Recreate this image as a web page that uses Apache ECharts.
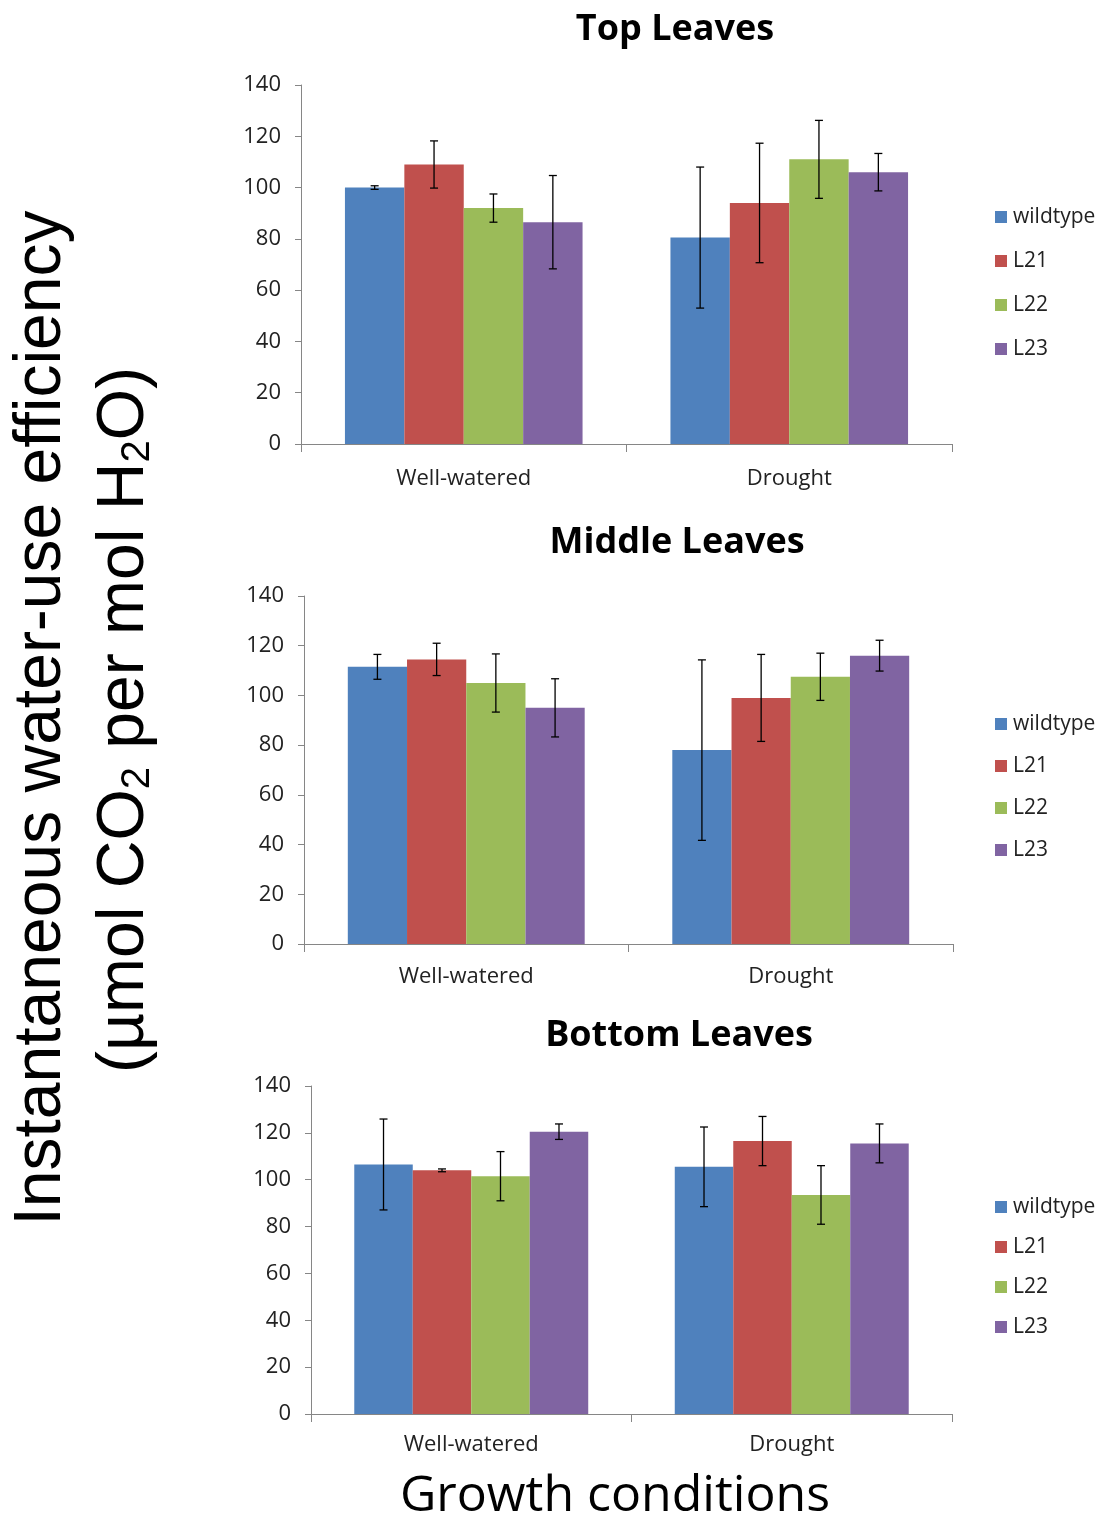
<!DOCTYPE html>
<html>
<head>
<meta charset="utf-8">
<script src="https://cdn.jsdelivr.net/npm/echarts@6/dist/echarts.min.js"></script>
<style>
  html, body { margin: 0; padding: 0; background: #fff; }
  #main { width: 1103px; height: 1521px; }
</style>
</head>
<body>
<div id="main"></div>
<script>
// categories and lines
var conditions = ['Well-watered', 'Drought'];
var lines = ['wildtype', 'L21', 'L22', 'L23'];
var lineColors = ['#4F81BD', '#C0504D', '#9BBB59', '#8064A2'];
var yTicks = [0, 20, 40, 60, 80, 100, 120, 140];

// means per line: [Well-watered, Drought]
var topMeans = [[100, 80.5], [109, 94], [92, 111], [86.5, 106]];
var topErrs = [[0.7, 27.5], [9.2, 23.3], [5.5, 15.2], [18.2, 7.3]];

var middleMeans = [[111.5, 78], [114.5, 99], [105, 107.5], [95, 116]];
var middleErrs = [[5, 36.3], [6.5, 17.5], [11.7, 9.5], [11.7, 6.2]];

var bottomMeans = [[106.5, 105.5], [104, 116.5], [101.5, 93.5], [120.5, 115.5]];
var bottomErrs = [[19.4, 17], [0.6, 10.5], [10.5, 12.5], [3.3, 8.3]];

var panels = [
  { title: 'Top Leaves', means: topMeans, errs: topErrs,
    grid: { left: 301, top: 85, width: 651, height: 359 }, titleX: 675, titleY: 30,
    labelMargin: 24, legendTop: 201, legendGap: 22 },
  { title: 'Middle Leaves', means: middleMeans, errs: middleErrs,
    grid: { left: 304, top: 596, width: 649, height: 348 }, titleX: 677, titleY: 543,
    labelMargin: 22, legendTop: 708, legendGap: 20 },
  { title: 'Bottom Leaves', means: bottomMeans, errs: bottomErrs,
    grid: { left: 311, top: 1086, width: 641, height: 328 }, titleX: 679, titleY: 1036,
    labelMargin: 20, legendTop: 1191, legendGap: 18 }
];

var CAT_GAP = 0.27;
var labelFont = '"Open Sans", sans-serif';

var chart = echarts.init(document.getElementById('main'), null, { renderer: 'canvas' });

var grids = [], xAxes = [], yAxes = [], legends = [], series = [], graphics = [];

panels.forEach(function (p, pi) {
  grids.push(p.grid);
  xAxes.push({
    type: 'category',
    gridIndex: pi,
    data: conditions,
    axisLine: { lineStyle: { color: '#868686', width: 1 } },
    axisTick: { show: true, length: 8, lineStyle: { color: '#868686' } },
    axisLabel: { color: '#222', fontSize: 22, fontFamily: labelFont, margin: p.labelMargin }
  });
  yAxes.push({
    type: 'value',
    gridIndex: pi,
    min: yTicks[0],
    max: yTicks[yTicks.length - 1],
    interval: yTicks[1] - yTicks[0],
    splitLine: { show: false },
    axisLine: { show: true, lineStyle: { color: '#868686', width: 1 } },
    axisTick: { show: true, length: 6, lineStyle: { color: '#868686' } },
    axisLabel: { color: '#222', fontSize: 22, fontFamily: labelFont, margin: 20 }
  });
  legends.push({
    orient: 'vertical',
    left: 990,
    top: p.legendTop,
    itemGap: p.legendGap,
    itemWidth: 12,
    itemHeight: 12,
    icon: 'rect',
    data: lines,
    textStyle: { color: '#222', fontSize: 21, fontFamily: labelFont, lineHeight: 22, padding: [0, 0, 0, 1] }
  });

  lines.forEach(function (name, k) {
    series.push({
      name: name,
      type: 'bar',
      xAxisIndex: pi,
      yAxisIndex: pi,
      data: p.means[k],
      barGap: '0%',
      barCategoryGap: (CAT_GAP * 100) + '%',
      itemStyle: { color: lineColors[k] },
      emphasis: { disabled: true },
      silent: true,
      animation: false
    });
  });

  // error bars
  lines.forEach(function (name, k) {
    var errData = p.means[k].map(function (m, ci) {
      return [ci, m - p.errs[k][ci], m + p.errs[k][ci]];
    });
    series.push({
      name: name,
      type: 'custom',
      xAxisIndex: pi,
      yAxisIndex: pi,
      data: errData,
      z: 10,
      silent: true,
      animation: false,
      renderItem: function (params, api) {
        var ci = api.value(0);
        var lo = api.coord([ci, api.value(1)]);
        var hi = api.coord([ci, api.value(2)]);
        var band = api.size([1, 0])[0];
        var groupW = band * (1 - CAT_GAP);
        var barW = groupW / lines.length;
        var x = lo[0] - groupW / 2 + barW * (k + 0.5);
        var cap = 4;
        var st = { stroke: '#000', lineWidth: 1.3 };
        return {
          type: 'group',
          children: [
            { type: 'line', shape: { x1: x, y1: lo[1], x2: x, y2: hi[1] }, style: st },
            { type: 'line', shape: { x1: x - cap, y1: lo[1], x2: x + cap, y2: lo[1] }, style: st },
            { type: 'line', shape: { x1: x - cap, y1: hi[1], x2: x + cap, y2: hi[1] }, style: st }
          ]
        };
      }
    });
  });

  graphics.push({
    type: 'text',
    x: p.titleX,
    y: p.titleY,
    style: {
      text: p.title,
      fontSize: 36,
      fontWeight: 'bold',
      fontFamily: labelFont,
      fill: '#000',
      align: 'center',
      verticalAlign: 'middle'
    }
  });
});

// big axis titles
graphics.push({
  type: 'text',
  x: 42,
  y: 718,
  rotation: Math.PI / 2,
  style: {
    text: 'Instantaneous water-use efficiency',
    fontSize: 66,
    fontFamily: '"Liberation Sans", Arial, sans-serif',
    fill: '#000',
    align: 'center',
    verticalAlign: 'middle'
  }
});
graphics.push({
  type: 'text',
  x: 125,
  y: 720,
  rotation: Math.PI / 2,
  style: {
    text: '(µmol CO{s|2} per mol H{s|2}O)',
    fontSize: 66,
    fontFamily: '"Liberation Sans", Arial, sans-serif',
    fill: '#000',
    align: 'center',
    verticalAlign: 'middle',
    rich: {
      s: {
        fontSize: 40,
        fontFamily: '"Liberation Sans", Arial, sans-serif',
        fill: '#000',
        verticalAlign: 'bottom'
      }
    }
  }
});
graphics.push({
  type: 'text',
  x: 615,
  y: 1497,
  style: {
    text: 'Growth conditions',
    fontSize: 50,
    fontFamily: labelFont,
    fill: '#000',
    align: 'center',
    verticalAlign: 'middle'
  }
});

chart.setOption({
  backgroundColor: '#fff',
  animation: false,
  grid: grids,
  xAxis: xAxes,
  yAxis: yAxes,
  legend: legends,
  series: series,
  graphic: graphics
});
</script>
</body>
</html>
